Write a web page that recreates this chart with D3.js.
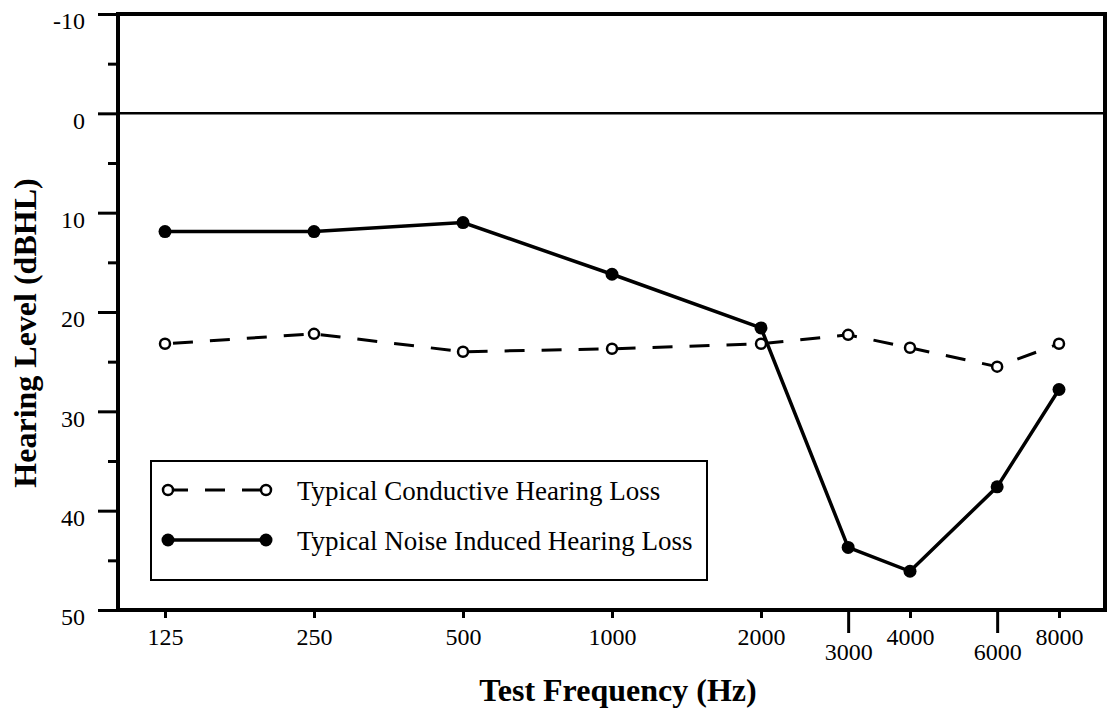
<!DOCTYPE html>
<html>
<head>
<meta charset="utf-8">
<script src="https://cdn.jsdelivr.net/npm/d3@7"></script>
<style>
    body { margin: 0; background: #fff; }
    text { font-family: "Liberation Serif", "Times New Roman", serif; fill: #000; }
</style>
</head>
<body>
<div id="container"></div>
<script>
// test frequencies (Hz) and hearing levels (dB HL)
var freqs = [125, 250, 500, 1000, 2000, 3000, 4000, 6000, 8000];
var conductive = [23.2, 22.2, 24.0, 23.7, 23.2, 22.3, 23.6, 25.5, 23.2];
var noise = [11.9, 11.9, 11.0, 16.2, 21.6, 43.7, 46.1, 37.6, 27.8];

var yTicks = [-10, 0, 10, 20, 30, 40, 50];
var yMinor = [-5, 5, 15, 25, 35, 45];
var droppedTicks = [3000, 6000];   // labels pushed down a row

var legendNames = ["Typical Conductive Hearing Loss", "Typical Noise Induced Hearing Loss"];

var W = 1110, H = 719;
var frame = { left: 118, right: 1105, top: 14, bottom: 610 };

var svg = d3.select("#container")
    .append("svg")
    .attr("width", W)
    .attr("height", H);

var x = d3.scaleLog().base(2)
    .domain([125, 8000])
    .range([165, 1059]);

var y = d3.scaleLinear()
    .domain([-10, 50])
    .range([frame.top, frame.bottom]);

// y axis, major ticks with labels (plain hyphen for -10, like the original)
var yAxis = svg.append("g")
    .attr("transform", "translate(" + frame.left + ",0)")
    .call(d3.axisLeft(y).tickValues(yTicks).tickSize(20).tickPadding(13).tickFormat(function (d) { return String(d); }));
yAxis.select(".domain").remove();
yAxis.selectAll("line").attr("stroke-width", 3);
yAxis.selectAll("text")
    .attr("dy", "0.62em")
    .style("font-size", "24px")
    .style("font-family", "Liberation Serif");

// minor ticks
var yMinorAxis = svg.append("g")
    .attr("transform", "translate(" + frame.left + ",0)")
    .call(d3.axisLeft(y).tickValues(yMinor).tickSize(10).tickFormat(""));
yMinorAxis.select(".domain").remove();
yMinorAxis.selectAll("line").attr("stroke-width", 3);

// x axis
var xAxis = svg.append("g")
    .attr("transform", "translate(0," + frame.bottom + ")")
    .call(d3.axisBottom(x).tickValues(freqs).tickSizeOuter(0).tickFormat(function (d) { return String(d); }));
xAxis.select(".domain").remove();
xAxis.selectAll(".tick line")
    .attr("stroke-width", 3)
    .attr("y2", function (d) { return droppedTicks.indexOf(d) >= 0 ? 23 : 8; });
xAxis.selectAll(".tick text")
    .attr("y", function (d) { return droppedTicks.indexOf(d) >= 0 ? 33 : 18; })
    .attr("dy", "0.71em")
    .style("font-size", "24px")
    .style("font-family", "Liberation Serif");

// frame and zero line
svg.append("rect")
    .attr("x", frame.left)
    .attr("y", frame.top)
    .attr("width", frame.right - frame.left)
    .attr("height", frame.bottom - frame.top)
    .attr("fill", "none")
    .attr("stroke", "#000")
    .attr("stroke-width", 4);

svg.append("line")
    .attr("x1", frame.left)
    .attr("x2", frame.right)
    .attr("y1", y(0))
    .attr("y2", y(0))
    .attr("stroke", "#000")
    .attr("stroke-width", 2.5);

// series
var line = d3.line()
    .x(function (d) { return x(d.f); })
    .y(function (d) { return y(d.v); });

var condData = freqs.map(function (f, i) { return { f: f, v: conductive[i] }; });
var noiseData = freqs.map(function (f, i) { return { f: f, v: noise[i] }; });

svg.append("path")
    .datum(condData)
    .attr("d", line)
    .attr("fill", "none")
    .attr("stroke", "#000")
    .attr("stroke-width", 3)
    .attr("stroke-dasharray", "20,17")
    .attr("stroke-dashoffset", -8);

svg.append("path")
    .datum(noiseData)
    .attr("d", line)
    .attr("fill", "none")
    .attr("stroke", "#000")
    .attr("stroke-width", 3.5);

svg.selectAll("circle.cond")
    .data(condData)
    .enter()
    .append("circle")
    .attr("class", "cond")
    .attr("cx", function (d) { return x(d.f); })
    .attr("cy", function (d) { return y(d.v); })
    .attr("r", 5)
    .attr("fill", "#fff")
    .attr("stroke", "#000")
    .attr("stroke-width", 2.5);

svg.selectAll("circle.noise")
    .data(noiseData)
    .enter()
    .append("circle")
    .attr("class", "noise")
    .attr("cx", function (d) { return x(d.f); })
    .attr("cy", function (d) { return y(d.v); })
    .attr("r", 6.5)
    .attr("fill", "#000");

// legend
var legend = svg.append("g");
legend.append("rect")
    .attr("x", 151)
    .attr("y", 461)
    .attr("width", 556)
    .attr("height", 119)
    .attr("fill", "#fff")
    .attr("stroke", "#000")
    .attr("stroke-width", 2);

var rows = [
    { y: 490, dash: "20,17", open: true },
    { y: 540, dash: null, open: false }
];

rows.forEach(function (r, i) {
    legend.append("line")
        .attr("x1", 168).attr("x2", 266)
        .attr("y1", r.y).attr("y2", r.y)
        .attr("stroke", "#000")
        .attr("stroke-width", r.open ? 3 : 3.5)
        .attr("stroke-dasharray", r.dash);
    [168, 266].forEach(function (cx) {
        legend.append("circle")
            .attr("cx", cx).attr("cy", r.y)
            .attr("r", r.open ? 5 : 6.5)
            .attr("fill", r.open ? "#fff" : "#000")
            .attr("stroke", r.open ? "#000" : "none")
            .attr("stroke-width", 2.5);
    });
    legend.append("text")
        .attr("x", 297)
        .attr("y", r.y + 10)
        .style("font-size", "27px")
        .text(legendNames[i]);
});

// axis titles
svg.append("text")
    .attr("x", 618)
    .attr("y", 701)
    .attr("text-anchor", "middle")
    .style("font-size", "32px")
    .style("font-weight", "bold")
    .text("Test Frequency (Hz)");

svg.append("text")
    .attr("transform", "translate(36,333) rotate(-90)")
    .attr("text-anchor", "middle")
    .style("font-size", "32px")
    .style("font-weight", "bold")
    .text("Hearing Level (dBHL)");
</script>
</body>
</html>
